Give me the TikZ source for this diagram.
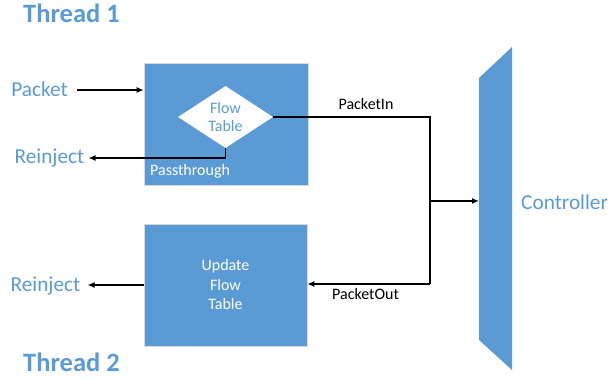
\documentclass[tikz,border=0pt]{standalone}
\usepackage{fontspec}
\setmainfont{Carlito}
\usetikzlibrary{arrows.meta,shapes.geometric}
\definecolor{boxblue}{HTML}{5B9BD5}
\definecolor{edgegray}{HTML}{D9D9D9}
\tikzset{
  block/.style={rectangle, fill=boxblue, draw=edgegray, line width=0.6pt, inner sep=0pt},
  biglabel/.style={text=boxblue, font=\fontsize{21.3}{25}\selectfont, inner sep=0pt, anchor=base},
  threadlabel/.style={text=boxblue, font=\fontsize{26.5}{30}\selectfont\bfseries, inner sep=0pt, anchor=base},
  smalllabel/.style={text=black, font=\fontsize{16}{19.5}\selectfont, inner sep=0pt, anchor=base},
  innertext/.style={font=\fontsize{16}{19.5}\selectfont, align=center},
  flow/.style={line width=1.3pt, -{Latex[length=7pt,width=6pt]}},
  wire/.style={line width=1.3pt}
}
\begin{document}
\begin{tikzpicture}[x=1pt,y=-1pt]
\useasboundingbox (0,0) rectangle (609,379);

% thread headings
\node[threadlabel] (t1) at (71.5,22.7) {Thread 1};
\node[threadlabel] (t2) at (71.5,371.7) {Thread 2};

% thread 1: passthrough box with the flow table lookup
\node[block, minimum width=164pt, minimum height=122pt] (box1) at (226,124) {};
\node[text=white, font=\fontsize{16}{19.5}\selectfont, inner sep=0pt, anchor=base west] (pass) at (150,176) {Passthrough};
\node[diamond, fill=white, minimum width=95pt, minimum height=62pt, inner sep=0pt, shape aspect=1.53,
      innertext, text=boxblue] (ft) at (225.5,117) {Flow\\[-1pt]Table};

% thread 2: update box
\node[block, minimum width=163pt, minimum height=122pt, innertext, text=white] (box2) at (225.5,285) {Update\\Flow\\Table};

% outside labels
\node[biglabel, anchor=base east] (packet) at (68,96.7) {Packet};
\node[biglabel, anchor=base east] (reinj1) at (84.5,163.5) {Reinject};
\node[biglabel, anchor=base east] (reinj2) at (80.5,291) {Reinject};
\node[biglabel, anchor=base west] (ctrllab) at (521,209) {Controller};
\node[smalllabel] (pin) at (366,110) {PacketIn};
\node[smalllabel] (pout) at (365.5,299.5) {PacketOut};

% controller
\fill[boxblue] (479,78) -- (512,47) -- (512,370) -- (479,340) -- cycle;
\coordinate (ctrl) at (479,201);

% bus between the threads and the controller
\coordinate (bustop) at (430,117);
\coordinate (busbot) at (430,284);
\coordinate (junc) at (430,201);

% connectors
\draw[flow] (packet.east |- 0,90) ++(9,0) -- (box1.west |- 0,90);
\draw[flow] (ft.south) |- ([xshift=4pt]reinj1.east |- 0,158);
\draw[wire] (ft.east) -- (bustop) -- (busbot);
\draw[flow] (busbot) -- (box2.east |- busbot);
\draw[flow] (junc) -- (ctrl);
\draw[flow] (box2.west) -- ([xshift=7pt]reinj2.east |- box2.west);
\end{tikzpicture}
\end{document}
